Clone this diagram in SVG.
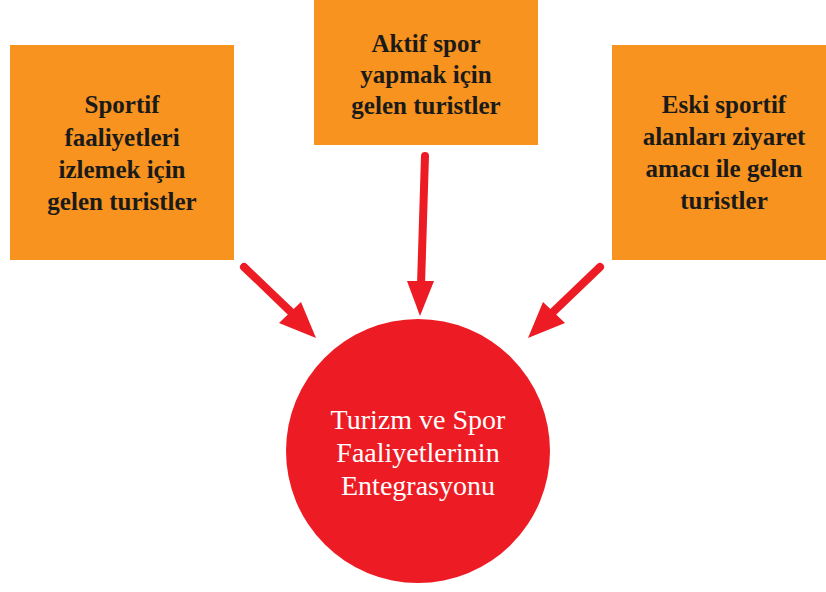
<svg xmlns="http://www.w3.org/2000/svg" width="826" height="592" viewBox="0 0 826 592">
<style>
.box{fill:#F7931E}
.t{font-family:"Liberation Serif","DejaVu Serif",serif;font-size:25px;font-weight:bold;text-anchor:middle;fill:#1a1a1a}
.w{fill:#ffffff;font-weight:normal;font-size:28px}
.c{stroke:#ED1C24;stroke-width:8;stroke-linecap:round;fill:none}
.h{fill:#ED1C24}
</style>
<rect width="826" height="592" fill="#ffffff"/>
<g id="node-watch">
<rect class="box" x="10" y="45" width="224" height="215"/>
<text class="t" x="122" y="113">Sportif</text>
<text class="t" x="122" y="146">faaliyetleri</text>
<text class="t" x="122" y="178">izlemek için</text>
<text class="t" x="122" y="210">gelen turistler</text>
</g>
<g id="node-active">
<rect class="box" x="314" y="0" width="224" height="145"/>
<text class="t" x="426" y="52">Aktif spor</text>
<text class="t" x="426" y="83">yapmak için</text>
<text class="t" x="426" y="114">gelen turistler</text>
</g>
<g id="node-old">
<rect class="box" x="612" y="45" width="214" height="215"/>
<text class="t" x="724" y="113">Eski sportif</text>
<text class="t" x="724" y="145">alanları ziyaret</text>
<text class="t" x="724" y="177">amacı ile gelen</text>
<text class="t" x="724" y="209">turistler</text>
</g>
<g id="node-center">
<circle cx="418" cy="451" r="132" fill="#ED1C24"/>
<text class="t w" x="418" y="429">Turizm ve Spor</text>
<text class="t w" x="418" y="462">Faaliyetlerinin</text>
<text class="t w" x="418" y="495">Entegrasyonu</text>
</g>
<g id="connectors">
<line class="c" x1="425" y1="156" x2="421" y2="285"/>
<polygon class="h" points="407,281 434,281 420,316"/>
<line class="c" x1="244" y1="267" x2="292" y2="313"/>
<polygon class="h" points="279,323 301,302 316,338"/>
<line class="c" x1="600" y1="267" x2="552" y2="313"/>
<polygon class="h" points="565,323 543,302 528,338"/>
</g>
</svg>
